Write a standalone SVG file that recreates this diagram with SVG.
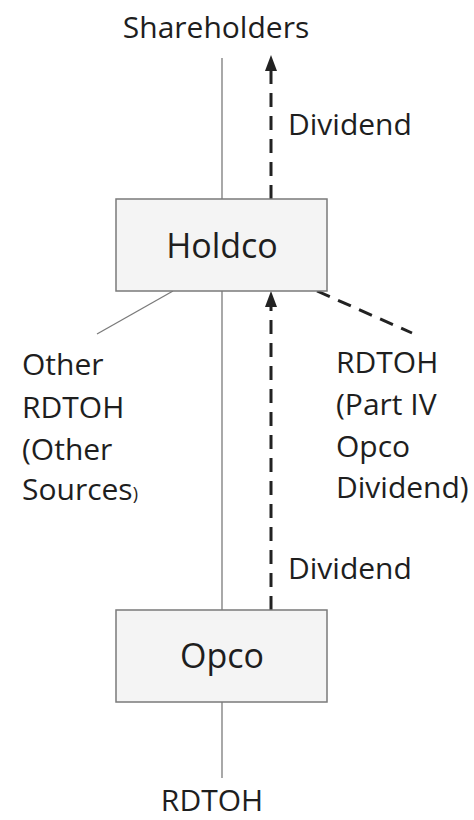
<svg xmlns="http://www.w3.org/2000/svg" width="474" height="820" viewBox="0 0 474 820">
<style>
.t{font-family:"Open Sans","Noto Sans","Liberation Sans",sans-serif;font-size:30px;fill:#1e1e1e}
.n{font-size:34px}
.box{fill:#f4f4f4;stroke:#7a7a7a;stroke-width:1.5}
.thin{stroke:#7a7a7a;stroke-width:1.3;fill:none}
.dash{stroke:#222;stroke-width:3;stroke-dasharray:14 9;fill:none}
</style>
<g id="connectors">
<line class="thin" x1="222" y1="58" x2="222" y2="199"/>
<line class="thin" x1="222" y1="291" x2="222" y2="610"/>
<line class="thin" x1="222" y1="702" x2="222" y2="778"/>
<line class="thin" x1="173" y1="291" x2="97" y2="334"/>
<line class="dash" x1="317" y1="291" x2="412" y2="333"/>
<path class="dash" d="M271 199 V70"/>
<path d="M271 55 L277 71 L265 71 Z" fill="#222"/>
<path class="dash" d="M271 610 V306"/>
<path d="M271 291 L277 307 L265 307 Z" fill="#222"/>
</g>
<g id="shareholders"><text class="t" x="216" y="38" text-anchor="middle">Shareholders</text></g>
<g id="holdco">
<rect class="box" x="116" y="199" width="211" height="92"/>
<text class="t n" x="222" y="258" text-anchor="middle">Holdco</text>
</g>
<g id="opco">
<rect class="box" x="116" y="610" width="211" height="92"/>
<text class="t n" x="222" y="668" text-anchor="middle">Opco</text>
</g>
<g id="labels">
<text class="t" x="288" y="135">Dividend</text>
<text class="t" x="288" y="579">Dividend</text>
<text class="t" x="22" y="375">Other</text>
<text class="t" x="22" y="418">RDTOH</text>
<text class="t" x="22" y="460">(Other</text>
<text class="t" x="22" y="500">Sources<tspan font-size="18">)</tspan></text>
<text class="t" x="336" y="373">RDTOH</text>
<text class="t" x="336" y="415">(Part IV</text>
<text class="t" x="336" y="457">Opco</text>
<text class="t" x="336" y="498">Dividend)</text>
<text class="t" x="212" y="811" text-anchor="middle">RDTOH</text>
</g>
</svg>
